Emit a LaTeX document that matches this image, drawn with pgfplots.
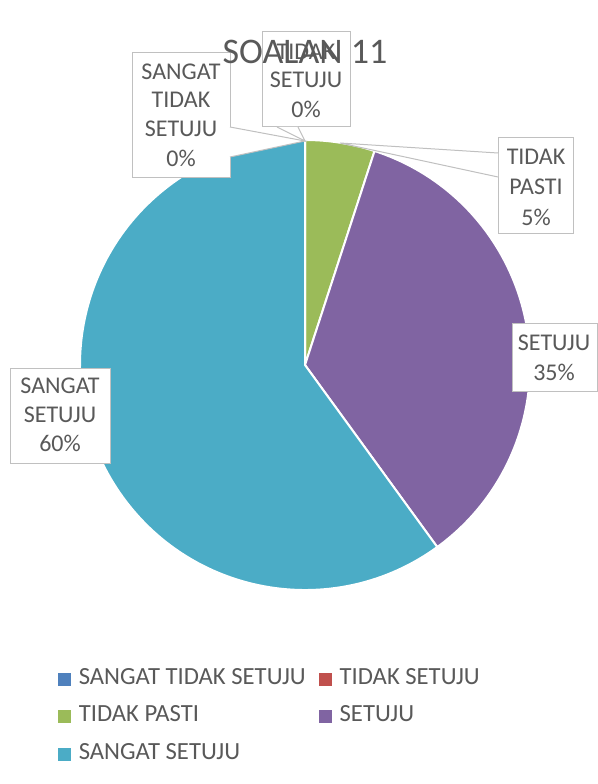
\documentclass[border=0pt]{standalone}
\usepackage{pgfplots}
\pgfplotsset{compat=1.18}
\usepackage{fontspec}
\setmainfont{Carlito}
\definecolor{cSTS}{HTML}{4F81BD}
\definecolor{cTS}{HTML}{C0504D}
\definecolor{cTP}{HTML}{9BBB59}
\definecolor{cS}{HTML}{8064A2}
\definecolor{cSS}{HTML}{4BACC6}
\definecolor{txt}{HTML}{595959}
\definecolor{bord}{HTML}{C0C0C0}
\newcommand{\lblfont}{\fontsize{18}{21.5}\selectfont}
\pgfplotsset{legsq/.style={legend image code/.code={\fill[#1] (0pt,-4.5pt) rectangle (9pt,4.5pt);}}}
\begin{document}
\begin{tikzpicture}
\begin{axis}[
  scale only axis, width=448.5pt, height=588pt,
  xmin=0, xmax=598, ymin=0, ymax=784, y dir=reverse,
  axis lines=none, clip=false,
  legend columns=2,
  legend cell align=left,
  legend style={at={(axis cs:58,668)}, anchor=north west, draw=none, fill=none,
    inner sep=0pt, font=\fontsize{18.5}{21}\selectfont, text=txt,
    nodes={inner sep=0pt, text height=12pt, text depth=4pt},
    row sep=12.2pt},
  /tikz/every odd column/.append style={column sep=6pt},
  /tikz/every even column/.append style={column sep=10pt},
]
\path (axis cs:0,0) rectangle (axis cs:598,784);
% pie data (percent): STS, TS, TP, S, SS
\def\curang{90}
\pgfplotsforeachungrouped \v/\c in {0/cSTS,0/cTS,5/cTP,35/cS,60/cSS}{%
  \pgfmathsetmacro\endang{\curang-3.6*\v}%
  \ifdim \v pt>0pt
    \edef\temp{\noexpand\fill[\c,draw=white,line width=1.5pt,line join=round] (axis cs:305,365) -- ++(\curang:168.75pt) arc[start angle=\curang,end angle=\endang,radius=168.75pt] -- cycle;}%
    \temp
  \fi
  \global\let\curang\endang
}
\addlegendimage{legsq=cSTS}\addlegendentry{SANGAT TIDAK SETUJU}
\addlegendimage{legsq=cTS}\addlegendentry{TIDAK SETUJU}
\addlegendimage{legsq=cTP}\addlegendentry{TIDAK PASTI}
\addlegendimage{legsq=cS}\addlegendentry{SETUJU}
\addlegendimage{legsq=cSS}\addlegendentry{SANGAT SETUJU}

% label boxes with callout pointers
\begin{scope}[bord, line width=0.75pt]
% SANGAT TIDAK SETUJU
\filldraw[fill=white] (axis cs:132,53) rectangle (axis cs:230,178);
\fill[white] (axis cs:230,127) -- (axis cs:305,141) -- (axis cs:230,157) -- cycle;
\draw (axis cs:230,127) -- (axis cs:305,141) -- (axis cs:230,157);
% TIDAK SETUJU
\filldraw[fill=white] (axis cs:262,32) rectangle (axis cs:350,127);
\fill[white] (axis cs:277,127) -- (axis cs:305,141) -- (axis cs:298,127) -- cycle;
\draw (axis cs:277,127) -- (axis cs:305,141) -- (axis cs:298,127);
% TIDAK PASTI
\filldraw[fill=white] (axis cs:498,138) rectangle (axis cs:573,233);
\fill[white] (axis cs:498,153) -- (axis cs:340,143) -- (axis cs:498,177) -- cycle;
\draw (axis cs:498,153) -- (axis cs:340,143) -- (axis cs:498,177);
% SETUJU
\filldraw[fill=white] (axis cs:512,323) rectangle (axis cs:597,391);
% SANGAT SETUJU
\filldraw[fill=white] (axis cs:10,368) rectangle (axis cs:110,463);
\end{scope}
\begin{scope}[every node/.style={text=txt, font=\lblfont, inner sep=0pt, anchor=center}]
\node at (axis cs:181,72) {SANGAT};
\node at (axis cs:181,100) {TIDAK};
\node at (axis cs:181,129) {SETUJU};
\node at (axis cs:181,158) {0\%};
\node at (axis cs:306,52) {TIDAK};
\node at (axis cs:306,80) {SETUJU};
\node at (axis cs:306,109) {0\%};
\node at (axis cs:536,157) {TIDAK};
\node at (axis cs:536,187) {PASTI};
\node at (axis cs:536,217) {5\%};
\node at (axis cs:554,343) {SETUJU};
\node at (axis cs:554,372) {35\%};
\node at (axis cs:60,386) {SANGAT};
\node at (axis cs:60,415) {SETUJU};
\node at (axis cs:60,443) {60\%};
\end{scope}
\node[text=txt, font=\fontsize{27}{32}\selectfont, inner sep=0pt] at (axis cs:305,52) {SOALAN 11};
\end{axis}
\end{tikzpicture}
\end{document}
